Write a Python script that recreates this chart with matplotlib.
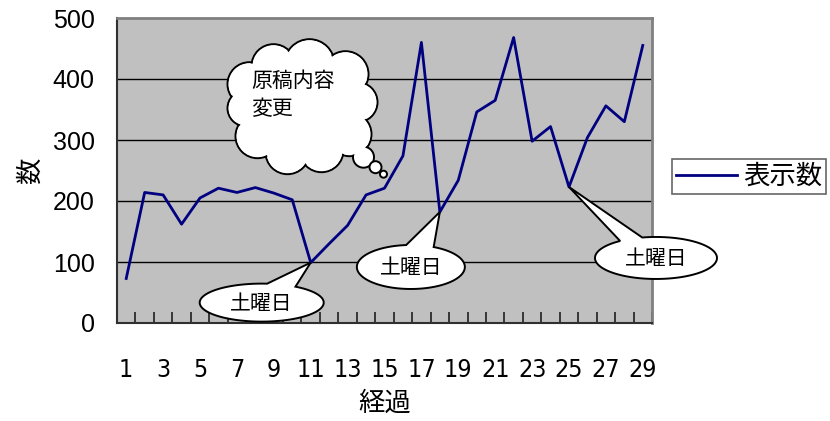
import numpy as np
import matplotlib
matplotlib.use("Agg")
import matplotlib.pyplot as plt
from matplotlib.patches import PathPatch, Circle, Ellipse
from matplotlib.path import Path
from matplotlib.transforms import IdentityTransform

# ---- data ----
days = list(range(1, 30))
counts = [73, 214, 210, 162, 205, 221, 214, 222, 213, 202,
          99, 130, 160, 210, 221, 274, 460, 182, 234, 346,
          365, 468, 298, 322, 223, 304, 356, 330, 455]
series_name = "表示数"
x_label = "経過"
y_label = "数"
y_ticks = [0, 100, 200, 300, 400, 500]
x_tick_labels = [str(d) for d in range(1, 30, 2)]
saturday_days = [11, 18, 25]
saturday_text = "土曜日"
cloud_text = "原稿内容\n変更"
cloud_day = 15

CJK = ["Noto Sans CJK JP", "DejaVu Sans"]
plt.rcParams['font.family'] = CJK

W, H = 830, 421
fig = plt.figure(figsize=(W / 100, H / 100), dpi=100)
L, R, T, B = 117, 652, 18, 323
ax = fig.add_axes([L / W, 1 - B / H, (R - L) / W, (B - T) / H])
ax.set_facecolor("#C0C0C0")

ax.plot(days, counts, color="#000080", lw=2.0, label=series_name, zorder=3)
ax.set_xlim(0.5, 29.5)
ax.set_ylim(0, 500)

ax.set_yticks(y_ticks)
ax.set_yticklabels([str(v) for v in y_ticks], family=["Liberation Sans", "DejaVu Sans"], fontsize=18)
ax.tick_params(axis="y", length=0, pad=16)
for v in y_ticks[1:-1]:
    ax.axhline(v, color="black", lw=1.0, zorder=1)

ax.set_xticks(list(range(1, 30, 2)))
ax.set_xticklabels(x_tick_labels, family=["DejaVu Sans"], stretch="condensed", fontsize=18)
ax.tick_params(axis="x", which="major", length=0, pad=25)
ax.set_xticks(np.arange(0.5, 30.0, 1.0), minor=True)
ax.tick_params(axis="x", which="minor", direction="in", length=8, width=1.2, color="#202020")

for s in ["top", "right"]:
    ax.spines[s].set_color("#808080")
    ax.spines[s].set_linewidth(2.0)
for s in ["left", "bottom"]:
    ax.spines[s].set_color("#303030")
    ax.spines[s].set_linewidth(1.5)

ax.set_xlabel(x_label, fontsize=19, labelpad=6)
ax.set_ylabel(y_label, fontsize=19)
ax.yaxis.set_label_coords((44 - L) / (R - L), 0.5)

leg = fig.legend(loc="upper left", bbox_to_anchor=(672 / W, 1 - 159 / H), frameon=True,
                 fancybox=False, fontsize=19, handlelength=2.3, handletextpad=0.25,
                 borderpad=0.15, borderaxespad=0)
leg.get_frame().set_edgecolor("#404040")
leg.get_frame().set_linewidth(1.2)

# ---- callouts (pixel offsets from anchored data points) ----
fig.canvas.draw()
ID = IdentityTransform()


def pix(day):
    return ax.transData.transform((day, counts[days.index(day)]))


def ellipse_callout(day, dx, dy, a, b, th1, th2, text):
    tip = pix(day)
    cx, cy = tip[0] + dx, tip[1] + dy
    angs = np.deg2rad(np.linspace(th2, th1 + 360, 200))
    pts = [(cx + a * np.cos(t), cy + b * np.sin(t)) for t in angs]
    pts.append(tuple(tip))
    pts.append(pts[0])
    codes = [Path.MOVETO] + [Path.LINETO] * (len(pts) - 2) + [Path.CLOSEPOLY]
    p = PathPatch(Path(pts, codes), facecolor="white", edgecolor="black", lw=1.4,
                  transform=ID, zorder=5, clip_on=False)
    fig.add_artist(p)
    fig.text(cx / W, (cy - 1) / H, text, ha="center", va="center", fontsize=15, zorder=6)


ellipse_callout(11, -49, -40, 62, 19, 57, 85, saturday_text)
ellipse_callout(18, -29, -55, 54, 22, 65, 95, saturday_text)
ellipse_callout(25, 87, -71, 61, 21, 103, 126, saturday_text)

# cloud
anchor = pix(cloud_day)
ccx, ccy = anchor[0] - 83, anchor[1] + 82
bumps = [(-52, 22, 22), (-28, 40, 22), (8, 42, 25), (44, 32, 23), (56, 4, 20),
         (48, -28, 22), (20, -44, 22), (-14, -46, 22), (-44, -30, 22), (-56, -2, 18)]
for bx, by, r in bumps:
    fig.add_artist(Circle((ccx + bx, ccy + by), r, facecolor="white", edgecolor="black",
                          lw=1.4, transform=ID, zorder=5, clip_on=False))
for bx, by, r in bumps:
    fig.add_artist(Circle((ccx + bx, ccy + by), r - 1.3, facecolor="white", edgecolor="none",
                          transform=ID, zorder=5.1, clip_on=False))
fig.add_artist(Ellipse((ccx, ccy), 120, 92, facecolor="white", edgecolor="none",
                       transform=ID, zorder=5.2, clip_on=False))
for bx, by, r in [(-21, 31, 10.5), (-9, 21, 6), (-1, 14, 3.5)]:
    fig.add_artist(Circle((anchor[0] + bx, anchor[1] + by), r, facecolor="white",
                          edgecolor="black", lw=1.4, transform=ID, zorder=5, clip_on=False))
fig.text((ccx - 50) / W, (ccy + 36) / H, cloud_text, ha="left", va="top", fontsize=15,
         linespacing=1.35, zorder=6)

fig.savefig("out.png", dpi=100)
